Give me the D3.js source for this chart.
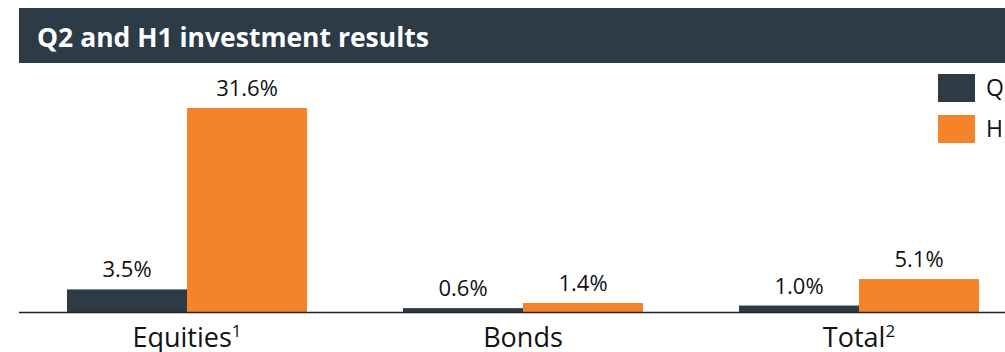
<!DOCTYPE html>
<html><head><meta charset="utf-8">
<script src="https://cdn.jsdelivr.net/npm/d3@7"></script>
<style>body{margin:0;background:#fff;overflow:hidden}svg{display:block}</style>
</head><body>
<svg id="c" width="1005" height="352"></svg>
<script>
const categories = ["Equities", "Bonds", "Total"];
const footnotes = ["1", "", "2"];
const seriesNames = ["Q2", "H1"];
const q2Values = [3.5, 0.6, 1.0];
const h1Values = [31.6, 1.4, 5.1];
const colors = ["#2c3b46", "#f5832a"];
const title = "Q2 and H1 investment results";

const svg = d3.select("#c");
const font = "'Open Sans', sans-serif";

// title bar
svg.append("rect").attr("x", 19).attr("y", 8).attr("width", 1000).attr("height", 55).attr("fill", "#2c3b46");
svg.append("text").attr("x", 37).attr("y", 47).attr("fill", "#fff")
  .attr("font-family", font).attr("font-weight", 700).attr("font-size", 26.5).text(title);

const x0 = d3.scaleBand().domain(categories).range([19, 1027]).padding(0);
const x1 = d3.scaleBand().domain(seriesNames).range([0, 240]);
const y = d3.scaleLinear().domain([0, 31.6]).range([312, 108]);

const data = categories.map((c, i) => ({cat: c, vals: [
  {s: seriesNames[0], v: q2Values[i]}, {s: seriesNames[1], v: h1Values[i]}]}));

const g = svg.selectAll("g.grp").data(data).enter().append("g")
  .attr("transform", d => `translate(${x0(d.cat) + x0.bandwidth()/2 - 120},0)`);
g.selectAll("rect").data(d => d.vals).enter().append("rect")
  .attr("x", d => x1(d.s)).attr("width", x1.bandwidth())
  .attr("y", d => y(d.v)).attr("height", d => y(0) - y(d.v))
  .attr("fill", (d, i) => colors[i]);
g.selectAll("text.v").data(d => d.vals).enter().append("text")
  .attr("x", d => x1(d.s) + x1.bandwidth()/2).attr("y", d => y(d.v) - 12)
  .attr("text-anchor", "middle").attr("font-family", font).attr("font-size", 22)
  .attr("fill", "#111").text(d => d.v.toFixed(1) + "%");

// axis
const axis = svg.append("g").attr("transform", "translate(0,312)")
  .call(d3.axisBottom(x0).tickSize(0).tickFormat(""));
axis.select(".domain").attr("stroke", "#222").attr("stroke-width", 1.5).attr("d", "M19,0.5H1005");

categories.forEach((c, i) => {
  const t = svg.append("text").attr("x", x0(c) + x0.bandwidth()/2).attr("y", 347)
    .attr("text-anchor", "middle").attr("font-family", font).attr("font-size", 27).attr("fill", "#111");
  t.append("tspan").text(c);
  if (footnotes[i]) t.append("tspan").attr("font-size", 17).attr("dy", -10).text(footnotes[i]);
});

// legend
seriesNames.forEach((s, i) => {
  svg.append("rect").attr("x", 938).attr("y", 74 + i * 41).attr("width", 37).attr("height", 28).attr("fill", colors[i]);
  svg.append("text").attr("x", 986).attr("y", 96 + i * 41).attr("font-family", font).attr("font-size", 23)
    .attr("fill", "#111").text(s);
});
</script>
</body></html>
